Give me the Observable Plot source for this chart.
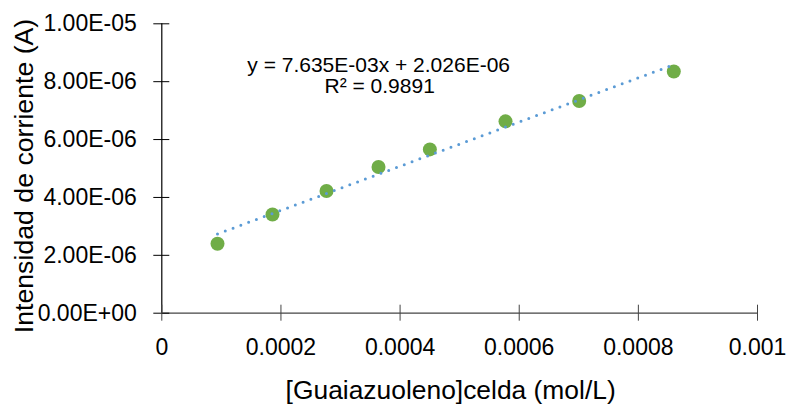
<!DOCTYPE html>
<html><head><meta charset="utf-8">
<script src="https://cdn.jsdelivr.net/npm/d3@7"></script>
<script src="https://cdn.jsdelivr.net/npm/@observablehq/plot@0.6"></script>
<style>body{margin:0;background:#fff}</style>
</head><body><div id="chart"></div>
<script>
// Data
const concentrations = [0.0000935, 0.0001858, 0.0002765, 0.0003638, 0.000450, 0.000577, 0.0007007, 0.0008595];
const currents = [2.40e-6, 3.41e-6, 4.22e-6, 5.05e-6, 5.66e-6, 6.63e-6, 7.33e-6, 8.35e-6];
const slope = 7.635e-3;
const intercept = 2.026e-6;
const equationText = "y = 7.635E-03x + 2.026E-06";
const r2Text = "R² = 0.9891";
const xTicks = [0, 0.0002, 0.0004, 0.0006, 0.0008, 0.001];
const xTickLabels = ["0", "0.0002", "0.0004", "0.0006", "0.0008", "0.001"];
const yTicks = [0, 2e-6, 4e-6, 6e-6, 8e-6, 1e-5];
const yTickLabels = ["0.00E+00", "2.00E-06", "4.00E-06", "6.00E-06", "8.00E-06", "1.00E-05"];
const xTitle = "[Guaiazuoleno]celda (mol/L)";
const yTitle = "Intensidad de corriente (A)";

const points = concentrations.map((x, i) => ({x, y: currents[i]}));
const xMin = d3.min(concentrations), xMax = d3.max(concentrations);
const trend = [xMin, xMax].map(x => ({x, y: slope * x + intercept}));

const font = "'Liberation Sans', Arial, sans-serif";

const chart = Plot.plot({
  width: 789,
  height: 406,
  marginLeft: 161.3,
  marginRight: 32,
  marginTop: 23.3,
  marginBottom: 93.3,
  style: {fontFamily: font, background: "#fff", color: "#000"},
  x: {domain: [0, 0.001], label: null},
  y: {domain: [0, 1e-5], label: null},
  marks: [
    Plot.ruleX([0], {stroke: "#000", strokeWidth: 1.2}),
    Plot.ruleY([0], {stroke: "#444", strokeWidth: 1.3}),
    Plot.axisY({ticks: yTicks, tickFormat: d => yTickLabels[yTicks.indexOf(d)], tickSize: 16, dx: 8, tickPadding: 17, fontSize: 23, label: null, stroke: "#000", fill: "#000"}),
    Plot.axisX({ticks: xTicks, tickFormat: d => xTickLabels[xTicks.indexOf(d)], tickSize: 16, dy: -8, tickPadding: 17, fontSize: 23, label: null, stroke: "#444", fill: "#000"}),
    Plot.dot(points, {x: "x", y: "y", r: 7, fill: "#70AD47", stroke: null}),
    Plot.line(trend, {x: "x", y: "y", stroke: "#5B9BD5", strokeWidth: 3, strokeDasharray: "0 8.3", strokeLinecap: "round"}),
    Plot.text([equationText], {frameAnchor: "top", dx: -81, dy: 32.8, fontSize: 21, fill: "#000"}),
    Plot.text([r2Text], {frameAnchor: "top", dx: -80, dy: 53.8, fontSize: 21, fill: "#000"}),
    Plot.text([xTitle], {frameAnchor: "bottom", dx: -9, dy: 86, fontSize: 26.4, fill: "#000"}),
    Plot.text([yTitle], {frameAnchor: "left", rotate: -90, textAnchor: "middle", lineAnchor: "middle", dx: -137, dy: 7.5, fontSize: 26.7, fill: "#000"})
  ]
});
document.getElementById("chart").appendChild(chart);
</script>
</body></html>
